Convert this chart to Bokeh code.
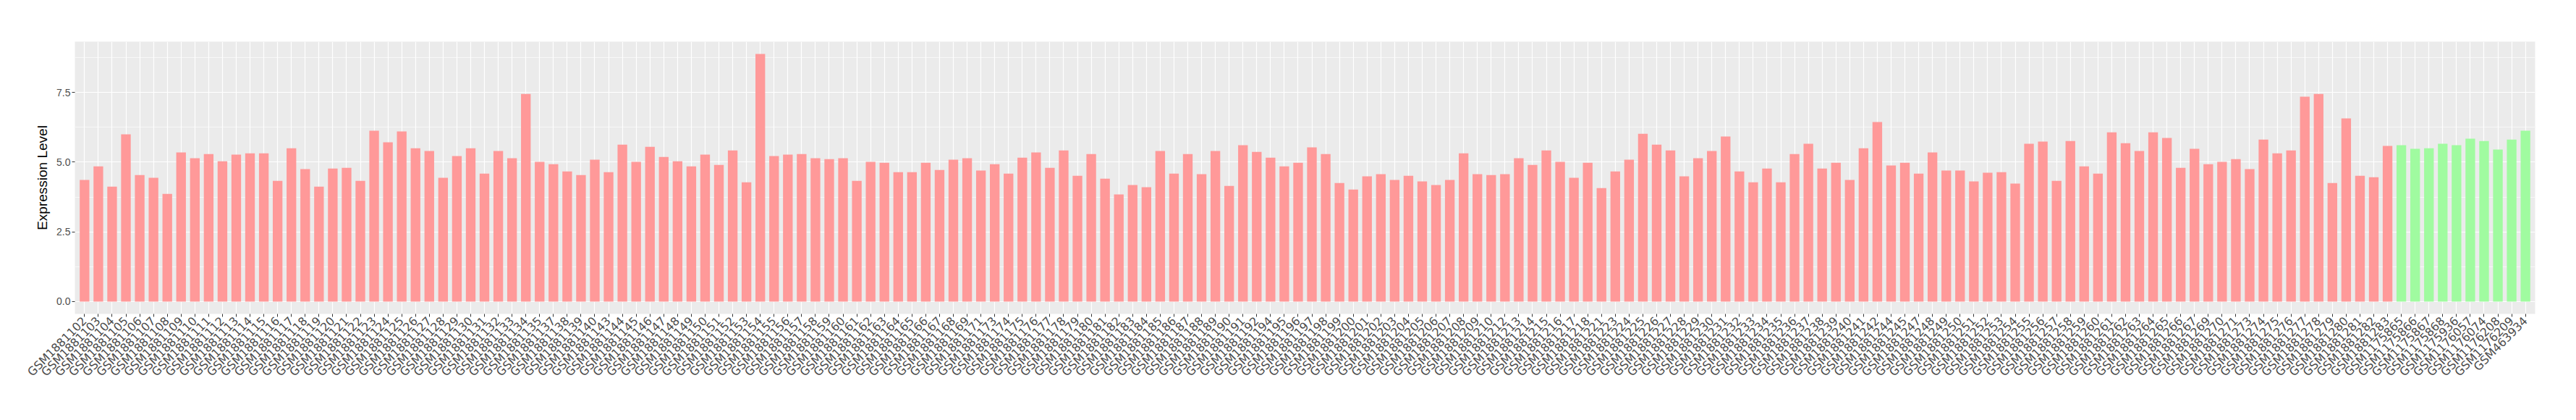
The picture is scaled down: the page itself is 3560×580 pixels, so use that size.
import math
from bokeh.plotting import figure
from bokeh.models import ColumnDataSource, FactorRange, Range1d, FixedTicker, PrintfTickFormatter
from bokeh.embed import file_html
from bokeh.resources import INLINE

# ---- data ----
group_a_suffix = [
    102, 103, 104, 105, 106, 107, 108, 109, 110, 111, 112, 113, 114, 115, 116, 117, 118, 119, 120,
    121, 122, 123, 124, 125, 126, 127, 128, 129, 130, 131, 132, 133, 134, 135, 137, 138, 139, 140,
    143, 144, 145, 146, 147, 148, 149, 150, 151, 152, 153, 154, 155, 156, 157, 158, 159, 160, 161,
    162, 163, 164, 165, 166, 167, 168, 169, 171, 173, 174, 175, 176, 177, 178, 179, 180, 181, 182,
    183, 184, 185, 186, 187, 188, 189, 190, 191, 192, 194, 195, 196, 197, 198, 199, 200, 201, 202,
    203, 204, 205, 206, 207, 208, 209, 210, 212, 213, 214, 215, 216, 217, 218, 221, 223, 224, 225,
    226, 227, 228, 229, 230, 231, 232, 233, 234, 235, 236, 237, 238, 239, 240, 241, 242, 244, 245,
    247, 248, 249, 250, 251, 252, 253, 254, 255, 256, 257, 258, 259, 260, 261, 262, 263, 264, 265,
    266, 267, 269, 270, 271, 273, 274, 275, 276, 277, 278, 279, 280, 281, 282, 283,
]
group_a_samples = ["GSM1881%d" % n for n in group_a_suffix]

group_a_values = [
    4.36, 4.85, 4.12, 6.00, 4.54, 4.44, 3.86, 5.35, 5.14, 5.29, 5.03, 5.27, 5.32, 5.32, 4.33, 5.50,
    4.75, 4.12, 4.77, 4.80, 4.33, 6.13, 5.71, 6.10, 5.50, 5.40,
    4.44, 5.22, 5.50, 4.59, 5.40, 5.14, 7.45, 5.01, 4.93, 4.67, 4.54, 5.09, 4.64, 5.63, 5.01, 5.55,
    5.19, 5.03, 4.85, 5.27, 4.90, 5.42, 4.28, 8.88, 5.22, 5.27, 5.29, 5.14, 5.11, 5.14, 4.33,
    5.01, 4.98, 4.64, 4.64, 4.98, 4.72, 5.09, 5.14, 4.70, 4.93, 4.59, 5.16, 5.35, 4.80, 5.42, 4.51,
    5.29, 4.41, 3.84, 4.18, 4.10, 5.40, 4.59, 5.29, 4.57, 5.40, 4.15, 5.61, 5.37, 5.16,
    4.85, 4.98, 5.53, 5.29, 4.25, 4.02, 4.49, 4.57, 4.36, 4.51, 4.31, 4.18, 4.36, 5.32, 4.57, 4.54,
    4.57, 5.14, 4.90, 5.42, 5.01, 4.44, 4.98, 4.07, 4.67, 5.09, 6.02, 5.63, 5.42, 4.49,
    5.14, 5.40, 5.92, 4.67, 4.28, 4.77, 4.28, 5.29, 5.66, 4.77, 4.98, 4.36, 5.50, 6.44, 4.88, 4.98,
    4.59, 5.35, 4.70, 4.70, 4.31, 4.62, 4.64, 4.23, 5.66, 5.74, 4.33, 5.76, 4.85, 4.59, 6.07,
    5.68, 5.40, 6.07, 5.87, 4.80, 5.48, 4.93, 5.01, 5.11, 4.75, 5.81, 5.32, 5.42, 7.35, 7.45, 4.25,
    6.57, 4.51, 4.46, 5.58,
]

group_b_samples = [
    "GSM1175865", "GSM1175866", "GSM1175867", "GSM1175868", "GSM1175936",
    "GSM1176057", "GSM1176074", "GSM1176208", "GSM1176209", "GSM463934",
]
group_b_values = [5.61, 5.48, 5.50, 5.66, 5.61, 5.84, 5.76, 5.45, 5.81, 6.13]

y_ticks = [0.0, 2.5, 5.0, 7.5]
y_minor = [1.25, 3.75, 6.25, 8.75]

# ---- figure ----
all_samples = group_a_samples + group_b_samples
ymax = max(group_a_values + group_b_values)

p = figure(
    x_range=FactorRange(factors=all_samples, range_padding=0.2, range_padding_units="absolute"),
    y_range=Range1d(-0.05 * ymax, 1.05 * ymax),
    width=3560, height=580,
    min_border_left=103, min_border_right=57, min_border_top=57, min_border_bottom=147,
    output_backend="svg", toolbar_location=None,
)
p.background_fill_color = "#EBEBEB"
p.border_fill_color = "white"
p.outline_line_color = None

src_a = ColumnDataSource(dict(sample=group_a_samples, value=group_a_values))
src_b = ColumnDataSource(dict(sample=group_b_samples, value=group_b_values))
p.vbar(x="sample", top="value", width=0.7, source=src_a, fill_color="#FF9999", line_color=None)
p.vbar(x="sample", top="value", width=0.7, source=src_b, fill_color="#A0FBA0", line_color=None)

# grid
p.xgrid.grid_line_color = "white"
p.xgrid.grid_line_width = 1.2
p.ygrid.ticker = FixedTicker(ticks=y_ticks, minor_ticks=y_minor)
p.ygrid.grid_line_color = "white"
p.ygrid.grid_line_width = 1.2
p.ygrid.minor_grid_line_color = "white"
p.ygrid.minor_grid_line_width = 0.6

# y axis
p.yaxis.ticker = FixedTicker(ticks=y_ticks, minor_ticks=y_minor)
p.yaxis.formatter = PrintfTickFormatter(format="%.1f")
p.yaxis.axis_label = "Expression Level"
p.yaxis.axis_label_text_font = "Liberation Sans"
p.yaxis.axis_label_text_font_size = "19px"
p.yaxis.axis_label_text_font_style = "normal"
p.yaxis.axis_label_text_color = "black"
p.yaxis.axis_label_standoff = 6
p.yaxis.major_label_text_font = "Liberation Sans"
p.yaxis.major_label_text_font_size = "14px"
p.yaxis.major_label_text_color = "#4D4D4D"
p.yaxis.major_label_standoff = 2

# x axis
p.xaxis.major_label_orientation = math.pi / 4
p.xaxis.major_label_text_font = "DejaVu Sans"
p.xaxis.major_label_text_font_size = "16px"
p.xaxis.major_label_text_color = "#4D4D4D"
p.xaxis.major_label_standoff = 3

for ax in (p.xaxis, p.yaxis):
    ax.axis_line_color = None
    ax.major_tick_line_color = "#333333"
    ax.major_tick_out = 4
    ax.major_tick_in = 0
    ax.minor_tick_out = 0
    ax.minor_tick_in = 0

open("out.html", "w").write(file_html(p, INLINE))
